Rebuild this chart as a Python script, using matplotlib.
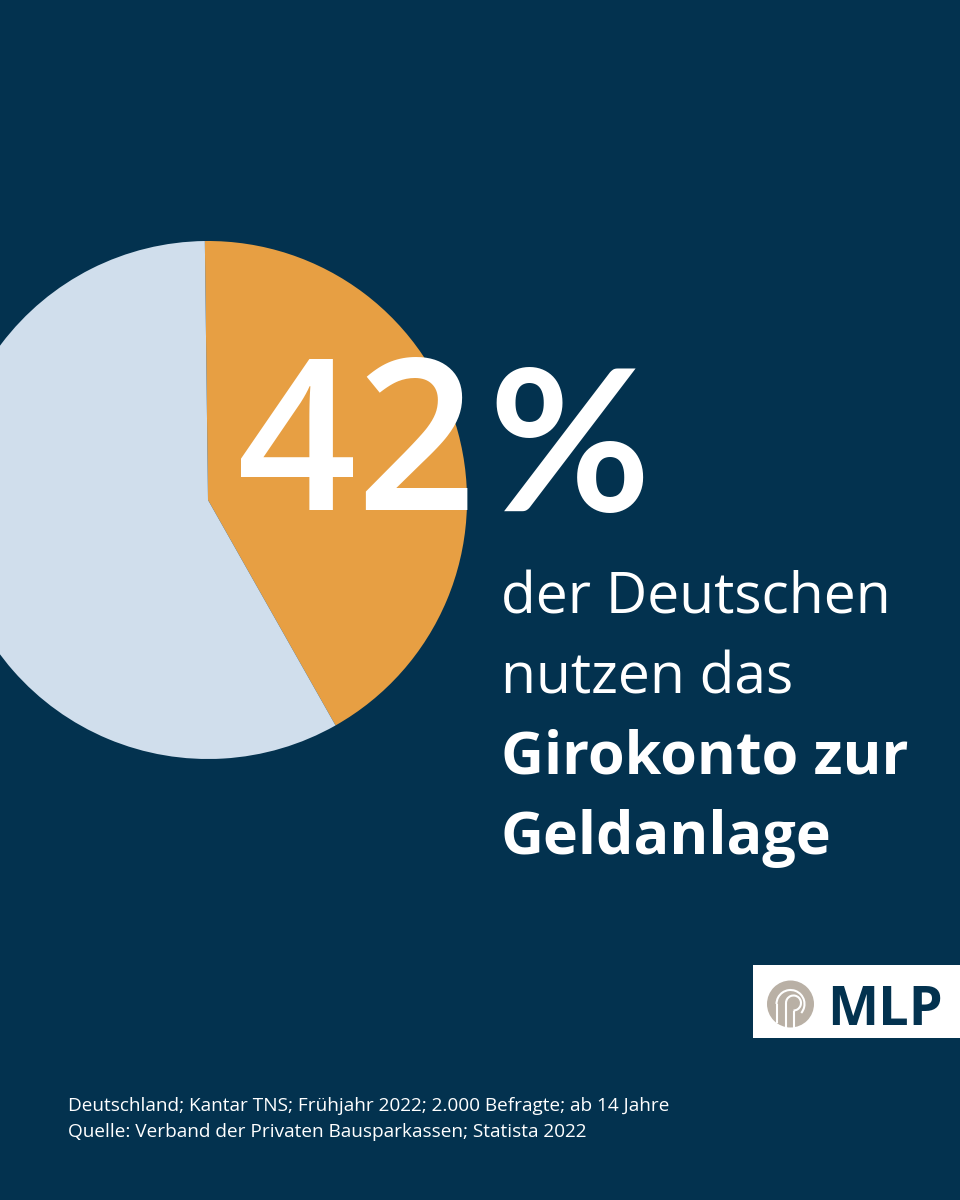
import matplotlib
matplotlib.use("Agg")
import matplotlib.pyplot as plt
from matplotlib.patches import Rectangle, Circle, Arc

#Data
SHARES = [42, 58]
SHARE_DIGITS = "42"
SHARE_SIGN = "%"
LINES_REGULAR = ["der Deutschen", "nutzen das"]
LINES_BOLD = ["Girokonto zur", "Geldanlage"]
SOURCE = ["Deutschland; Kantar TNS; Frühjahr 2022; 2.000 Befragte; ab 14 Jahre",
          "Quelle: Verband der Privaten Bausparkassen; Statista 2022"]
LOGO = "MLP"

#Colors
NAVY = "#03324f"
ORANGE = "#e79f43"
LIGHT = "#d0deec"
TAUPE = "#b9b0a5"

FONT = "Open Sans"
H = 1200


def y(py):
    # pixel row from the top -> data coordinate
    return H - py


def main():
    fig = plt.figure(figsize=(9.6, 12), dpi=100, facecolor=NAVY)
    ax = fig.add_axes([0, 0, 1, 1])

    ax.pie(SHARES, colors=[ORANGE, LIGHT], startangle=90.7, counterclock=False,
           center=(208, y(500)), radius=259, frame=True)
    ax.set_xlim(0, 960)
    ax.set_ylim(0, H)
    ax.set_aspect("equal")
    ax.axis("off")

    ax.text(237, y(510), SHARE_DIGITS, color="white", fontsize=151, fontweight="semibold",
            family=FONT, va="baseline", ha="left")
    ax.text(488, y(511), SHARE_SIGN, color="white", fontsize=142, fontweight="bold",
            family="Lato", va="baseline", ha="left")

    for text, py in zip(LINES_REGULAR, [614, 694]):
        ax.text(501, y(py), text, color="white", fontsize=41, family=FONT, va="baseline")
    for text, py in zip(LINES_BOLD, [774, 854]):
        ax.text(501, y(py), text, color="white", fontsize=42.7, fontweight="bold", family=FONT, va="baseline")

    for text, py in zip(SOURCE, [1111, 1137]):
        ax.text(68, y(py), text, color="white", fontsize=13.7, family=FONT, va="baseline")

    # logo
    ax.add_patch(Rectangle((753, y(1038)), 207, 73, color="white", lw=0, zorder=5))
    cx, cy = 790.5, y(1004)
    ax.add_patch(Circle((cx, cy), 23.5, color=TAUPE, lw=0, zorder=6))
    ax.add_patch(Arc((cx, cy), 28, 28, theta1=-40, theta2=180, color="white", lw=1.5, zorder=7))
    ax.plot([cx - 14, cx - 14], [cy, cy - 19], color="white", lw=1.5, zorder=7, solid_capstyle="butt")
    ax.add_patch(Arc((cx + 3, cy + 1), 15, 15, theta1=-90, theta2=180, color="white", lw=1.5, zorder=7))
    ax.plot([cx - 4.5, cx - 4.5], [cy + 1, cy - 24], color="white", lw=1.5, zorder=7, solid_capstyle="butt")
    ax.plot([cx + 3, cx + 3], [cy - 6.5, cy - 24], color="white", lw=1.5, zorder=7, solid_capstyle="butt")
    ax.text(827, y(1025), LOGO, color=NAVY, fontsize=39, fontweight="bold", family=FONT,
            va="baseline", zorder=6)

    fig.savefig("out.png", dpi=100, facecolor=NAVY)
    plt.close(fig)


main()
